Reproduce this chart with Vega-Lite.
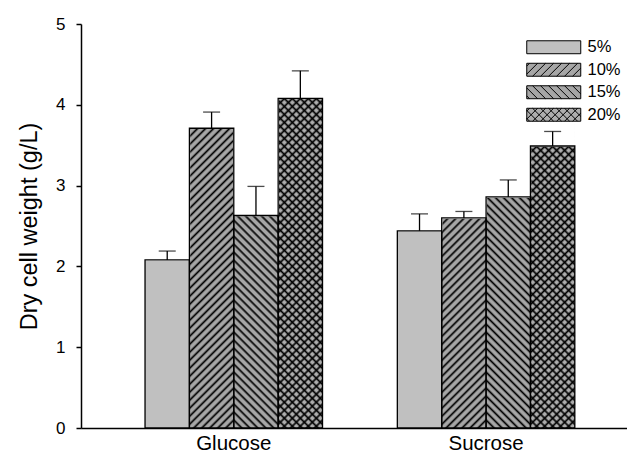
{
  "$schema": "https://vega.github.io/schema/vega-lite/v6.json",
  "width": 546,
  "height": 404,
  "autosize": "none",
  "padding": {"left": 81, "top": 24, "right": 0, "bottom": 26},
  "background": "white",
  "config": {
    "font": "Liberation Sans",
    "view": {"stroke": null},
    "axis": {"grid": false, "domainColor": "#000", "tickColor": "#000", "labelColor": "#000", "titleColor": "#000", "domainWidth": 1.5, "tickWidth": 1.5},
    "legend": {"labelColor": "#000"},
    "style": {
      "slash": {
        "color": {
          "gradient": "linear", "x1": 0, "y1": 0, "x2": 0.1492, "y2": 1.114,
          "stops": [
            {"offset":0,"color":"#000"},{"offset":0.0064,"color":"transparent"},{"offset":0.0149,"color":"transparent"},
            {"offset":0.0213,"color":"#000"},{"offset":0.0277,"color":"transparent"},{"offset":0.0362,"color":"transparent"},
            {"offset":0.0426,"color":"#000"},{"offset":0.0489,"color":"transparent"},{"offset":0.0574,"color":"transparent"},
            {"offset":0.0638,"color":"#000"},{"offset":0.0702,"color":"transparent"},{"offset":0.0787,"color":"transparent"},
            {"offset":0.0851,"color":"#000"},{"offset":0.0915,"color":"transparent"},{"offset":0.1,"color":"transparent"},
            {"offset":0.1064,"color":"#000"},{"offset":0.1128,"color":"transparent"},{"offset":0.1213,"color":"transparent"},
            {"offset":0.1277,"color":"#000"},{"offset":0.134,"color":"transparent"},{"offset":0.1426,"color":"transparent"},
            {"offset":0.1489,"color":"#000"},{"offset":0.1553,"color":"transparent"},{"offset":0.1638,"color":"transparent"},
            {"offset":0.1702,"color":"#000"},{"offset":0.1766,"color":"transparent"},{"offset":0.1851,"color":"transparent"},
            {"offset":0.1915,"color":"#000"},{"offset":0.1979,"color":"transparent"},{"offset":0.2064,"color":"transparent"},
            {"offset":0.2128,"color":"#000"},{"offset":0.2191,"color":"transparent"},{"offset":0.2277,"color":"transparent"},
            {"offset":0.234,"color":"#000"},{"offset":0.2404,"color":"transparent"},{"offset":0.2489,"color":"transparent"},
            {"offset":0.2553,"color":"#000"},{"offset":0.2617,"color":"transparent"},{"offset":0.2702,"color":"transparent"},
            {"offset":0.2766,"color":"#000"},{"offset":0.283,"color":"transparent"},{"offset":0.2915,"color":"transparent"},
            {"offset":0.2979,"color":"#000"},{"offset":0.3043,"color":"transparent"},{"offset":0.3128,"color":"transparent"},
            {"offset":0.3191,"color":"#000"},{"offset":0.3255,"color":"transparent"},{"offset":0.334,"color":"transparent"},
            {"offset":0.3404,"color":"#000"},{"offset":0.3468,"color":"transparent"},{"offset":0.3553,"color":"transparent"},
            {"offset":0.3617,"color":"#000"},{"offset":0.3681,"color":"transparent"},{"offset":0.3766,"color":"transparent"},
            {"offset":0.383,"color":"#000"},{"offset":0.3894,"color":"transparent"},{"offset":0.3979,"color":"transparent"},
            {"offset":0.4043,"color":"#000"},{"offset":0.4106,"color":"transparent"},{"offset":0.4191,"color":"transparent"},
            {"offset":0.4255,"color":"#000"},{"offset":0.4319,"color":"transparent"},{"offset":0.4404,"color":"transparent"},
            {"offset":0.4468,"color":"#000"},{"offset":0.4532,"color":"transparent"},{"offset":0.4617,"color":"transparent"},
            {"offset":0.4681,"color":"#000"},{"offset":0.4745,"color":"transparent"},{"offset":0.483,"color":"transparent"},
            {"offset":0.4894,"color":"#000"},{"offset":0.4957,"color":"transparent"},{"offset":0.5043,"color":"transparent"},
            {"offset":0.5106,"color":"#000"},{"offset":0.517,"color":"transparent"},{"offset":0.5255,"color":"transparent"},
            {"offset":0.5319,"color":"#000"},{"offset":0.5383,"color":"transparent"},{"offset":0.5468,"color":"transparent"},
            {"offset":0.5532,"color":"#000"},{"offset":0.5596,"color":"transparent"},{"offset":0.5681,"color":"transparent"},
            {"offset":0.5745,"color":"#000"},{"offset":0.5809,"color":"transparent"},{"offset":0.5894,"color":"transparent"},
            {"offset":0.5957,"color":"#000"},{"offset":0.6021,"color":"transparent"},{"offset":0.6106,"color":"transparent"},
            {"offset":0.617,"color":"#000"},{"offset":0.6234,"color":"transparent"},{"offset":0.6319,"color":"transparent"},
            {"offset":0.6383,"color":"#000"},{"offset":0.6447,"color":"transparent"},{"offset":0.6532,"color":"transparent"},
            {"offset":0.6596,"color":"#000"},{"offset":0.666,"color":"transparent"},{"offset":0.6745,"color":"transparent"},
            {"offset":0.6809,"color":"#000"},{"offset":0.6872,"color":"transparent"},{"offset":0.6957,"color":"transparent"},
            {"offset":0.7021,"color":"#000"},{"offset":0.7085,"color":"transparent"},{"offset":0.717,"color":"transparent"},
            {"offset":0.7234,"color":"#000"},{"offset":0.7298,"color":"transparent"},{"offset":0.7383,"color":"transparent"},
            {"offset":0.7447,"color":"#000"},{"offset":0.7511,"color":"transparent"},{"offset":0.7596,"color":"transparent"},
            {"offset":0.766,"color":"#000"},{"offset":0.7723,"color":"transparent"},{"offset":0.7809,"color":"transparent"},
            {"offset":0.7872,"color":"#000"},{"offset":0.7936,"color":"transparent"},{"offset":0.8021,"color":"transparent"},
            {"offset":0.8085,"color":"#000"},{"offset":0.8149,"color":"transparent"},{"offset":0.8234,"color":"transparent"},
            {"offset":0.8298,"color":"#000"},{"offset":0.8362,"color":"transparent"},{"offset":0.8447,"color":"transparent"},
            {"offset":0.8511,"color":"#000"},{"offset":0.8574,"color":"transparent"},{"offset":0.866,"color":"transparent"},
            {"offset":0.8723,"color":"#000"},{"offset":0.8787,"color":"transparent"},{"offset":0.8872,"color":"transparent"},
            {"offset":0.8936,"color":"#000"},{"offset":0.9,"color":"transparent"},{"offset":0.9085,"color":"transparent"},
            {"offset":0.9149,"color":"#000"},{"offset":0.9213,"color":"transparent"},{"offset":0.9298,"color":"transparent"},
            {"offset":0.9362,"color":"#000"},{"offset":0.9426,"color":"transparent"},{"offset":0.9511,"color":"transparent"},
            {"offset":0.9574,"color":"#000"},{"offset":0.9638,"color":"transparent"},{"offset":0.9723,"color":"transparent"},
            {"offset":0.9787,"color":"#000"},{"offset":0.9851,"color":"transparent"},{"offset":0.9936,"color":"transparent"},
            {"offset":1,"color":"#000"}
          ]
        }
      },
      "backslash": {
        "color": {
          "gradient": "linear", "x1": 0, "y1": 1, "x2": 0.1492, "y2": -0.114,
          "stops": [
            {"offset":0,"color":"#000"},{"offset":0.0064,"color":"transparent"},{"offset":0.0149,"color":"transparent"},
            {"offset":0.0213,"color":"#000"},{"offset":0.0277,"color":"transparent"},{"offset":0.0362,"color":"transparent"},
            {"offset":0.0426,"color":"#000"},{"offset":0.0489,"color":"transparent"},{"offset":0.0574,"color":"transparent"},
            {"offset":0.0638,"color":"#000"},{"offset":0.0702,"color":"transparent"},{"offset":0.0787,"color":"transparent"},
            {"offset":0.0851,"color":"#000"},{"offset":0.0915,"color":"transparent"},{"offset":0.1,"color":"transparent"},
            {"offset":0.1064,"color":"#000"},{"offset":0.1128,"color":"transparent"},{"offset":0.1213,"color":"transparent"},
            {"offset":0.1277,"color":"#000"},{"offset":0.134,"color":"transparent"},{"offset":0.1426,"color":"transparent"},
            {"offset":0.1489,"color":"#000"},{"offset":0.1553,"color":"transparent"},{"offset":0.1638,"color":"transparent"},
            {"offset":0.1702,"color":"#000"},{"offset":0.1766,"color":"transparent"},{"offset":0.1851,"color":"transparent"},
            {"offset":0.1915,"color":"#000"},{"offset":0.1979,"color":"transparent"},{"offset":0.2064,"color":"transparent"},
            {"offset":0.2128,"color":"#000"},{"offset":0.2191,"color":"transparent"},{"offset":0.2277,"color":"transparent"},
            {"offset":0.234,"color":"#000"},{"offset":0.2404,"color":"transparent"},{"offset":0.2489,"color":"transparent"},
            {"offset":0.2553,"color":"#000"},{"offset":0.2617,"color":"transparent"},{"offset":0.2702,"color":"transparent"},
            {"offset":0.2766,"color":"#000"},{"offset":0.283,"color":"transparent"},{"offset":0.2915,"color":"transparent"},
            {"offset":0.2979,"color":"#000"},{"offset":0.3043,"color":"transparent"},{"offset":0.3128,"color":"transparent"},
            {"offset":0.3191,"color":"#000"},{"offset":0.3255,"color":"transparent"},{"offset":0.334,"color":"transparent"},
            {"offset":0.3404,"color":"#000"},{"offset":0.3468,"color":"transparent"},{"offset":0.3553,"color":"transparent"},
            {"offset":0.3617,"color":"#000"},{"offset":0.3681,"color":"transparent"},{"offset":0.3766,"color":"transparent"},
            {"offset":0.383,"color":"#000"},{"offset":0.3894,"color":"transparent"},{"offset":0.3979,"color":"transparent"},
            {"offset":0.4043,"color":"#000"},{"offset":0.4106,"color":"transparent"},{"offset":0.4191,"color":"transparent"},
            {"offset":0.4255,"color":"#000"},{"offset":0.4319,"color":"transparent"},{"offset":0.4404,"color":"transparent"},
            {"offset":0.4468,"color":"#000"},{"offset":0.4532,"color":"transparent"},{"offset":0.4617,"color":"transparent"},
            {"offset":0.4681,"color":"#000"},{"offset":0.4745,"color":"transparent"},{"offset":0.483,"color":"transparent"},
            {"offset":0.4894,"color":"#000"},{"offset":0.4957,"color":"transparent"},{"offset":0.5043,"color":"transparent"},
            {"offset":0.5106,"color":"#000"},{"offset":0.517,"color":"transparent"},{"offset":0.5255,"color":"transparent"},
            {"offset":0.5319,"color":"#000"},{"offset":0.5383,"color":"transparent"},{"offset":0.5468,"color":"transparent"},
            {"offset":0.5532,"color":"#000"},{"offset":0.5596,"color":"transparent"},{"offset":0.5681,"color":"transparent"},
            {"offset":0.5745,"color":"#000"},{"offset":0.5809,"color":"transparent"},{"offset":0.5894,"color":"transparent"},
            {"offset":0.5957,"color":"#000"},{"offset":0.6021,"color":"transparent"},{"offset":0.6106,"color":"transparent"},
            {"offset":0.617,"color":"#000"},{"offset":0.6234,"color":"transparent"},{"offset":0.6319,"color":"transparent"},
            {"offset":0.6383,"color":"#000"},{"offset":0.6447,"color":"transparent"},{"offset":0.6532,"color":"transparent"},
            {"offset":0.6596,"color":"#000"},{"offset":0.666,"color":"transparent"},{"offset":0.6745,"color":"transparent"},
            {"offset":0.6809,"color":"#000"},{"offset":0.6872,"color":"transparent"},{"offset":0.6957,"color":"transparent"},
            {"offset":0.7021,"color":"#000"},{"offset":0.7085,"color":"transparent"},{"offset":0.717,"color":"transparent"},
            {"offset":0.7234,"color":"#000"},{"offset":0.7298,"color":"transparent"},{"offset":0.7383,"color":"transparent"},
            {"offset":0.7447,"color":"#000"},{"offset":0.7511,"color":"transparent"},{"offset":0.7596,"color":"transparent"},
            {"offset":0.766,"color":"#000"},{"offset":0.7723,"color":"transparent"},{"offset":0.7809,"color":"transparent"},
            {"offset":0.7872,"color":"#000"},{"offset":0.7936,"color":"transparent"},{"offset":0.8021,"color":"transparent"},
            {"offset":0.8085,"color":"#000"},{"offset":0.8149,"color":"transparent"},{"offset":0.8234,"color":"transparent"},
            {"offset":0.8298,"color":"#000"},{"offset":0.8362,"color":"transparent"},{"offset":0.8447,"color":"transparent"},
            {"offset":0.8511,"color":"#000"},{"offset":0.8574,"color":"transparent"},{"offset":0.866,"color":"transparent"},
            {"offset":0.8723,"color":"#000"},{"offset":0.8787,"color":"transparent"},{"offset":0.8872,"color":"transparent"},
            {"offset":0.8936,"color":"#000"},{"offset":0.9,"color":"transparent"},{"offset":0.9085,"color":"transparent"},
            {"offset":0.9149,"color":"#000"},{"offset":0.9213,"color":"transparent"},{"offset":0.9298,"color":"transparent"},
            {"offset":0.9362,"color":"#000"},{"offset":0.9426,"color":"transparent"},{"offset":0.9511,"color":"transparent"},
            {"offset":0.9574,"color":"#000"},{"offset":0.9638,"color":"transparent"},{"offset":0.9723,"color":"transparent"},
            {"offset":0.9787,"color":"#000"},{"offset":0.9851,"color":"transparent"},{"offset":0.9936,"color":"transparent"},
            {"offset":1,"color":"#000"}
          ]
        }
      }
    }
  },
  "data": {
    "values": [
      {"sugar": "Glucose", "conc": "5%", "dcw": 2.08, "upper": 2.19},
      {"sugar": "Glucose", "conc": "10%", "dcw": 3.71, "upper": 3.91},
      {"sugar": "Glucose", "conc": "15%", "dcw": 2.63, "upper": 2.99},
      {"sugar": "Glucose", "conc": "20%", "dcw": 4.08, "upper": 4.42},
      {"sugar": "Sucrose", "conc": "5%", "dcw": 2.44, "upper": 2.65},
      {"sugar": "Sucrose", "conc": "10%", "dcw": 2.6, "upper": 2.68},
      {"sugar": "Sucrose", "conc": "15%", "dcw": 2.86, "upper": 3.07},
      {"sugar": "Sucrose", "conc": "20%", "dcw": 3.49, "upper": 3.67}
    ]
  },
  "encoding": {
    "x": {
      "field": "sugar", "type": "nominal",
      "scale": {"paddingInner": 0.2965, "paddingOuter": 0.2303, "align": 0.551},
      "axis": {"title": null, "ticks": false, "tickSize": 0, "labelAngle": 0, "labelFontSize": 20.5, "labelPadding": 5}
    },
    "xOffset": {
      "field": "conc", "type": "nominal",
      "scale": {"domain": ["5%", "10%", "15%", "20%"], "paddingInner": 0, "paddingOuter": 0}
    }
  },
  "layer": [
    {
      "mark": {"type": "bar"},
      "encoding": {
        "y": {
          "field": "dcw", "type": "quantitative",
          "scale": {"domain": [0, 5]},
          "axis": {"title": "Dry cell weight (g/L)", "values": [0, 1, 2, 3, 4, 5], "format": "d", "tickSize": 5, "labelFontSize": 17, "labelPadding": 11, "titleFontSize": 23.5, "titleFontWeight": "normal", "titlePadding": 14}
        },
        "color": {
          "field": "conc", "type": "nominal",
          "scale": {"domain": ["5%", "10%", "15%", "20%"], "range": ["#c0c0c0", "#a6a6a6", "#a6a6a6", "#adadad"]},
          "legend": {
            "title": null, "orient": "none", "legendX": 464.5, "legendY": 15,
            "padding": 0, "rowPadding": 4.5,
            "symbolSize": 182.25, "symbolStrokeWidth": 1, "symbolOffset": 0,
            "labelFontSize": 16.5, "labelOffset": 25.5,
            "encode": {
              "symbols": {
                "update": {
                  "stroke": {"value": "#000"},
                  "strokeWidth": {"value": 1},
                  "shape": {"signal": "datum.value === '10%' ? 'M-4,-0.96H4V0.96H-4Z M-4,-0.54L-3.58,-0.96M-4,0.645L-2.395,-0.96M-3.13,0.96L-1.21,-0.96M-1.945,0.96L-0.025,-0.96M-0.76,0.96L1.16,-0.96M0.425,0.96L2.345,-0.96M1.61,0.96L3.53,-0.96M2.795,0.96L4,-0.245' : datum.value === '15%' ? 'M-4,-0.96H4V0.96H-4Z M-4,0.54L-3.58,0.96M-4,-0.645L-2.395,0.96M-3.13,-0.96L-1.21,0.96M-1.945,-0.96L-0.025,0.96M-0.76,-0.96L1.16,0.96M0.425,-0.96L2.345,0.96M1.61,-0.96L3.53,0.96M2.795,-0.96L4,0.245' : datum.value === '20%' ? 'M-4,-0.96H4V0.96H-4Z M-4,-0.54L-3.58,-0.96M-4,0.645L-2.395,-0.96M-3.13,0.96L-1.21,-0.96M-1.945,0.96L-0.025,-0.96M-0.76,0.96L1.16,-0.96M0.425,0.96L2.345,-0.96M1.61,0.96L3.53,-0.96M2.795,0.96L4,-0.245 M-4,0.54L-3.58,0.96M-4,-0.645L-2.395,0.96M-3.13,-0.96L-1.21,0.96M-1.945,-0.96L-0.025,0.96M-0.76,-0.96L1.16,0.96M0.425,-0.96L2.345,0.96M1.61,-0.96L3.53,0.96M2.795,-0.96L4,0.245' : 'M-4,-0.96H4V0.96H-4Z'"}
                }
              }
            }
          }
        }
      }
    },
    {
      "transform": [{"filter": {"field": "conc", "oneOf": ["10%", "20%"]}}],
      "mark": {"type": "bar", "style": "slash"},
      "encoding": {"y": {"datum": 4.1, "type": "quantitative"}, "y2": {"datum": 0}}
    },
    {
      "transform": [{"filter": {"field": "conc", "oneOf": ["15%", "20%"]}}],
      "mark": {"type": "bar", "style": "backslash"},
      "encoding": {"y": {"datum": 4.1, "type": "quantitative"}, "y2": {"datum": 0}}
    },
    {
      "mark": {"type": "bar", "fill": "white", "stroke": "white", "strokeWidth": 1.5},
      "encoding": {"y": {"field": "dcw", "type": "quantitative"}, "y2": {"datum": 4.1}}
    },
    {
      "mark": {"type": "bar", "fill": "transparent", "stroke": "#000", "strokeWidth": 1.3},
      "encoding": {"y": {"field": "dcw", "type": "quantitative"}}
    },
    {
      "mark": {"type": "rule", "color": "#000", "strokeWidth": 1.3},
      "encoding": {"y": {"field": "dcw", "type": "quantitative"}, "y2": {"field": "upper"}}
    },
    {
      "mark": {"type": "tick", "color": "#000", "thickness": 1.3, "size": 17},
      "encoding": {"y": {"field": "upper", "type": "quantitative"}}
    }
  ]
}
